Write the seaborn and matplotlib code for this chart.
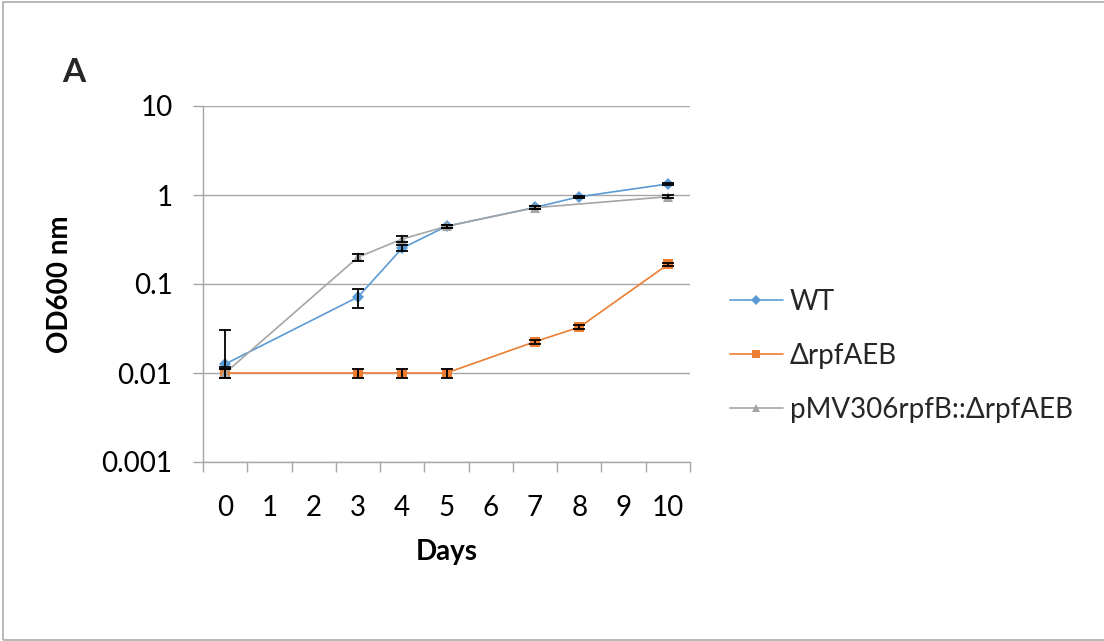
import numpy as np
import pandas as pd
import seaborn as sns
import matplotlib
matplotlib.use("Agg")
import matplotlib.pyplot as plt
from matplotlib.patches import Rectangle

# Growth data: OD600 over days for three strains
days = [0, 3, 4, 5, 7, 8, 10]
tick_days = list(range(0, 11))

wt_od = [0.0126, 0.0714, 0.253, 0.445, 0.725, 0.957, 1.33]
wt_err_low = [0.0010, 0.0170, 0.0200, 0.0150, 0.0200, 0.0200, 0.0450]
wt_err_high = [0.0180, 0.0170, 0.0200, 0.0150, 0.0200, 0.0200, 0.0450]

rpf_days = [0, 3, 4, 5, 7, 8, 10]
rpf_od = [0.010, 0.010, 0.010, 0.010, 0.0225, 0.0327, 0.166]
rpf_err = [0.0011, 0.0011, 0.0011, 0.0011, 0.0012, 0.0016, 0.0060]

comp_days = [0, 3, 4, 5, 7, 10]
comp_od = [0.0100, 0.200, 0.320, 0.445, 0.720, 0.957]
comp_err = [0.0011, 0.0200, 0.0260, 0.0200, 0.0250, 0.0350]

strains = ["WT", "\u0394rpfAEB", "pMV306rpfB::\u0394rpfAEB"]
colors = ["#5B9BD5", "#ED7D31", "#A5A5A5"]
marker_map = {strains[0]: "D", strains[1]: "s", strains[2]: "^"}

df = pd.concat([
    pd.DataFrame({"Days": days, "OD": wt_od, "Strain": strains[0]}),
    pd.DataFrame({"Days": rpf_days, "OD": rpf_od, "Strain": strains[1]}),
    pd.DataFrame({"Days": comp_days, "OD": comp_od, "Strain": strains[2]}),
], ignore_index=True)

sns.set_theme(style="white")
plt.rcParams["font.family"] = ["Lato", "DejaVu Sans"]

FS = 20

fig = plt.figure(figsize=(11.04, 6.41), dpi=100)
ax = fig.add_axes([203 / 1104, 1 - 462 / 641, 487 / 1104, 356 / 641])

sns.lineplot(data=df, x="Days", y="OD", hue="Strain", style="Strain",
             hue_order=strains, style_order=strains,
             palette=dict(zip(strains, colors)), markers=marker_map,
             dashes=False, linewidth=1.2, markersize=6.5,
             markeredgewidth=0, ax=ax, legend=True, zorder=3)

# Error bars
err_kw = dict(fmt="none", ecolor="black", elinewidth=1.3, capsize=4.5,
              capthick=1.3, zorder=4)
ax.errorbar(days, wt_od, yerr=[wt_err_low, wt_err_high], **err_kw)
ax.errorbar(rpf_days, rpf_od, yerr=rpf_err, **err_kw)
ax.errorbar(comp_days, comp_od, yerr=comp_err, **err_kw)

ax.set_yscale("log")
ax.set_ylim(0.001, 10)
ax.set_xlim(-0.5, 10.5)
ax.set_yticks([0.001, 0.01, 0.1, 1, 10])
ax.set_yticklabels(["0.001", "0.01", "0.1", "1", "10"])
ax.yaxis.set_minor_locator(matplotlib.ticker.NullLocator())
ax.set_xticks(tick_days)
ax.set_xticklabels([str(d) for d in tick_days])
ax.set_xticks(np.arange(-0.5, 11.0, 1.0), minor=True)

grid_c = "#A6A6A6"
ax.grid(axis="y", color=grid_c, linewidth=1.0, zorder=0)
ax.grid(axis="x", visible=False)
for side in ["top", "right"]:
    ax.spines[side].set_visible(False)
ax.spines["left"].set_color(grid_c)
ax.spines["bottom"].set_color(grid_c)
ax.spines["left"].set_linewidth(1.0)
ax.spines["bottom"].set_linewidth(1.0)

ax.tick_params(axis="y", which="major", left=True, length=7, width=1.0,
               color=grid_c, pad=15, labelsize=FS, labelcolor="black")
ax.tick_params(axis="x", which="major", bottom=False, length=0, pad=24,
               labelsize=FS, labelcolor="black")
ax.tick_params(axis="x", which="minor", bottom=True, length=7, width=1.0,
               color=grid_c)

ax.set_xlabel("Days", fontsize=FS, fontweight="bold", color="black")
ax.xaxis.set_label_coords(0.5, -0.215)
ax.set_ylabel("OD600 nm", fontsize=FS, fontweight="bold", color="black",
              va="center")
ax.yaxis.set_label_coords(-0.294, 0.5)

handles, labels = ax.get_legend_handles_labels()
ax.legend(handles, labels, loc="center left",
          bbox_to_anchor=(730 / 1104, 1 - 356 / 641),
          bbox_transform=fig.transFigure, frameon=False, fontsize=FS,
          handlelength=1.9, handletextpad=0.25, labelspacing=1.0,
          borderpad=0, borderaxespad=0, markerscale=0.8)

fig.text(74 / 1104, 1 - 72 / 641, "A", fontsize=24, fontweight="bold",
         ha="center", va="center")

# Chart-area frame
fig.patches.append(Rectangle((3 / 1104, 1 / 641), 1.2, 1 - 3 / 641,
                             transform=fig.transFigure, fill=False,
                             edgecolor="#ADADAD", linewidth=1.2))

fig.savefig("out.png", dpi=100, facecolor="white")
